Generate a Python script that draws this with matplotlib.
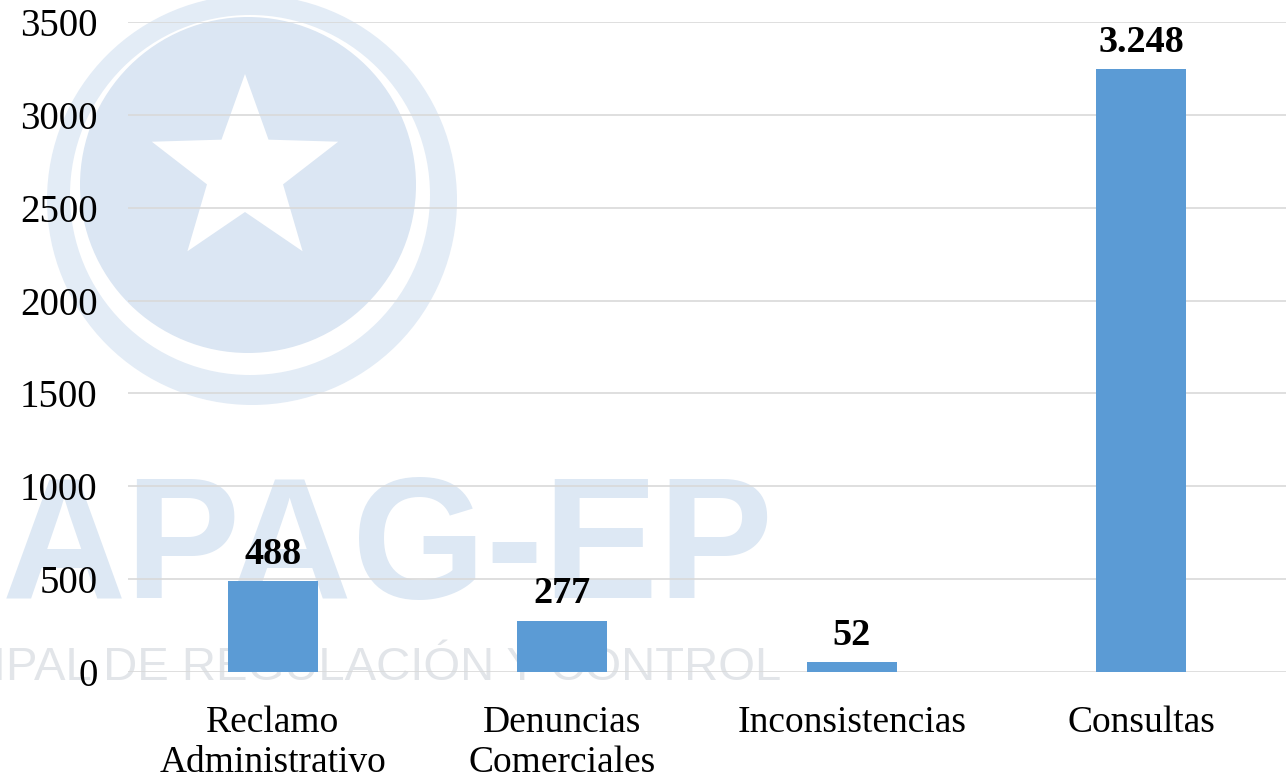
import matplotlib
matplotlib.use("Agg")
import matplotlib.pyplot as plt
from matplotlib.patches import Circle, Polygon
import numpy as np

categories = ["Reclamo\nAdministrativo", "Denuncias\nComerciales", "Inconsistencias", "Consultas"]
values = [488, 277, 52, 3248]
value_labels = ["488", "277", "52", "3.248"]
yticks = [0, 500, 1000, 1500, 2000, 2500, 3000, 3500]

plt.rcParams['font.family'] = ['Liberation Serif', 'DejaVu Serif']

W, H = 1286, 775
fig = plt.figure(figsize=(W / 100, H / 100), dpi=100)

# faint logo watermark behind the chart (pixel units, origin top-left)
bg = fig.add_axes([0, 0, 1, 1], zorder=0)
bg.set_xlim(0, W)
bg.set_ylim(H, 0)
bg.axis("off")
bg.add_patch(Circle((252, 200), 205, facecolor="#e3ecf6", edgecolor="none"))
bg.add_patch(Circle((250, 195), 180, facecolor="#ffffff", edgecolor="none"))
bg.add_patch(Circle((248, 185), 168, facecolor="#dbe6f3", edgecolor="none"))
ang = np.pi / 2 + np.arange(10) * np.pi / 5
rad = np.where(np.arange(10) % 2 == 0, 98, 40)
bg.add_patch(Polygon(np.column_stack([245 + rad * np.cos(ang), 172 - rad * np.sin(ang)]),
                     facecolor="white", edgecolor="none"))
bg.text(2, 553, "APAG-EP", fontsize=124, fontweight="bold", family=["Liberation Sans", "DejaVu Sans"],
        color="#dde8f4", va="center", ha="left")
bg.text(-162, 668, "MUNICIPAL DE REGULACIÓN Y CONTROL", fontsize=34,
        family=["Liberation Sans", "DejaVu Sans"],
        color="#e2e5e9", va="center", ha="left")

ax = fig.add_axes([128 / W, 1 - 672 / H, 1 - 128 / W, 650 / H], zorder=1)
ax.set_facecolor("none")
x = np.arange(len(categories))
ax.bar(x, values, width=0.31, color="#5b9bd5", zorder=3)
for xi, v, lab in zip(x, values, value_labels):
    ax.text(xi, v + 50, lab, ha="center", va="bottom", fontsize=27.5, fontweight="bold", zorder=4)

ax.set_xlim(-0.5, len(categories) - 0.5)
ax.set_ylim(0, 3500)
ax.set_yticks(yticks)
ax.set_xticks(x)
ax.set_xticklabels(categories, fontsize=27, linespacing=1.2)
ax.tick_params(axis="y", labelsize=28, length=0, pad=22)
ax.tick_params(axis="x", length=0, pad=24)
ax.grid(axis="y", color="#d9d9d9", linewidth=1.2, zorder=0)
for s in ax.spines.values():
    s.set_visible(False)

fig.savefig("out.png", dpi=100)
